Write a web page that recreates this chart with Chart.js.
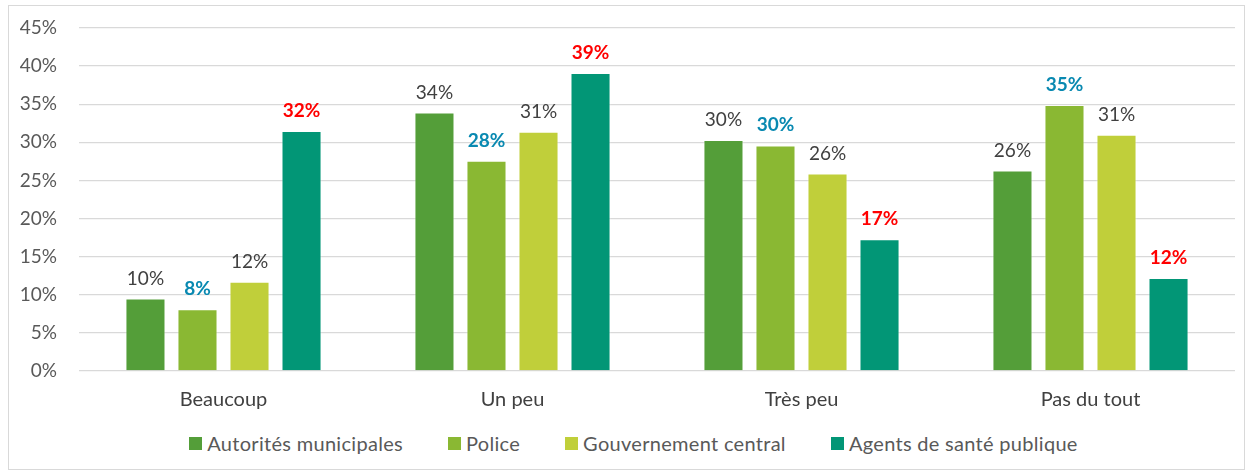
<!DOCTYPE html>
<html>
<head>
<meta charset="utf-8">
<script src="https://cdn.jsdelivr.net/npm/chart.js@4"></script>
<style>
  body { margin: 0; background: #fff; font-family: Lato, "Open Sans", sans-serif; }
  .frame {
    position: absolute; left: 8px; top: 5px;
    width: 1237px; height: 465px;
    border: 1px solid #d9d9d9; box-sizing: border-box;
  }
  canvas { display: block; }
  #legend {
    height: 44px; display: flex; align-items: center; justify-content: center;
    gap: 45px; padding-left: 14px; color: #595959; font-size: 20px; letter-spacing: 0.3px;
  }
  #legend span { display: flex; align-items: center; }
  #legend i { display: inline-block; width: 13px; height: 13px; margin-right: 5px; }
</style>
</head>
<body>
<div class="frame">
  <canvas id="trustChart" width="1235" height="415"></canvas>
  <div id="legend"></div>
</div>
<script>
const categories = ['Beaucoup', 'Un peu', 'Très peu', 'Pas du tout'];
const seriesNames = ['Autorités municipales', 'Police', 'Gouvernement central', 'Agents de santé publique'];
const autorites = [9.5, 33.9, 30.3, 26.3];
const police = [8.1, 27.6, 29.6, 34.9];
const gouvernement = [11.7, 31.4, 25.9, 31.0];
const agents = [31.5, 39.1, 17.3, 12.2];
const yTicks = [0, 5, 10, 15, 20, 25, 30, 35, 40, 45];

const colors = ['#549e39', '#8ab833', '#c0cf3a', '#029676'];
const labelColors = ['#404040', '#0989b1', '#404040', '#ff0000'];
const labelBold = [false, true, false, true];

Chart.defaults.font.family = 'Lato, "Open Sans", sans-serif';

// value labels above each bar
const barLabels = {
  id: 'barLabels',
  afterDatasetsDraw(chart) {
    const ctx = chart.ctx;
    chart.data.datasets.forEach((ds, i) => {
      chart.getDatasetMeta(i).data.forEach((bar, j) => {
        ctx.save();
        ctx.font = (labelBold[i] ? 'bold ' : '') + '19px ' + Chart.defaults.font.family;
        ctx.fillStyle = labelColors[i];
        ctx.textAlign = 'center';
        ctx.textBaseline = 'alphabetic';
        ctx.fillText(Math.round(ds.data[j]) + '%', bar.x, bar.y - 14);
        ctx.restore();
      });
    });
  }
};

const seriesData = [autorites, police, gouvernement, agents];

const chart = new Chart(document.getElementById('trustChart'), {
  type: 'bar',
  data: {
    labels: categories,
    datasets: seriesData.map((d, i) => ({
      label: seriesNames[i],
      data: d,
      backgroundColor: colors[i],
      borderColor: 'rgba(255,255,255,0.45)',
      borderWidth: 1,
      categoryPercentage: 0.72,
      barPercentage: 0.77
    }))
  },
  options: {
    responsive: false,
    animation: false,
    layout: { padding: { top: 22, right: 9, bottom: 0, left: 0 } },
    plugins: {
      legend: { display: false },
      tooltip: { enabled: false }
    },
    scales: {
      y: {
        min: 0,
        max: 45,
        afterBuildTicks: (s) => { s.ticks = yTicks.map(v => ({ value: v })); },
        afterFit: (s) => { s.width = 70; },
        border: { display: false },
        // invisible tick marks push the labels away from the grid
        grid: { color: '#d9d9d9', lineWidth: 1.3, tickLength: 22, tickColor: 'rgba(0,0,0,0)' },
        ticks: {
          padding: 0,
          color: '#595959',
          font: { size: 19 },
          callback: (v) => v + '%'
        }
      },
      x: {
        afterFit: (s) => { s.height = 50; },
        border: { display: false },
        grid: { display: false, drawTicks: false },
        ticks: {
          padding: 17,
          color: '#404040',
          font: { size: 20 }
        }
      }
    }
  },
  plugins: [barLabels]
});

// html legend under the canvas
document.getElementById('legend').innerHTML = chart.data.datasets
  .map(ds => `<span><i style="background:${ds.backgroundColor}"></i>${ds.label}</span>`)
  .join('');
</script>
</body>
</html>
